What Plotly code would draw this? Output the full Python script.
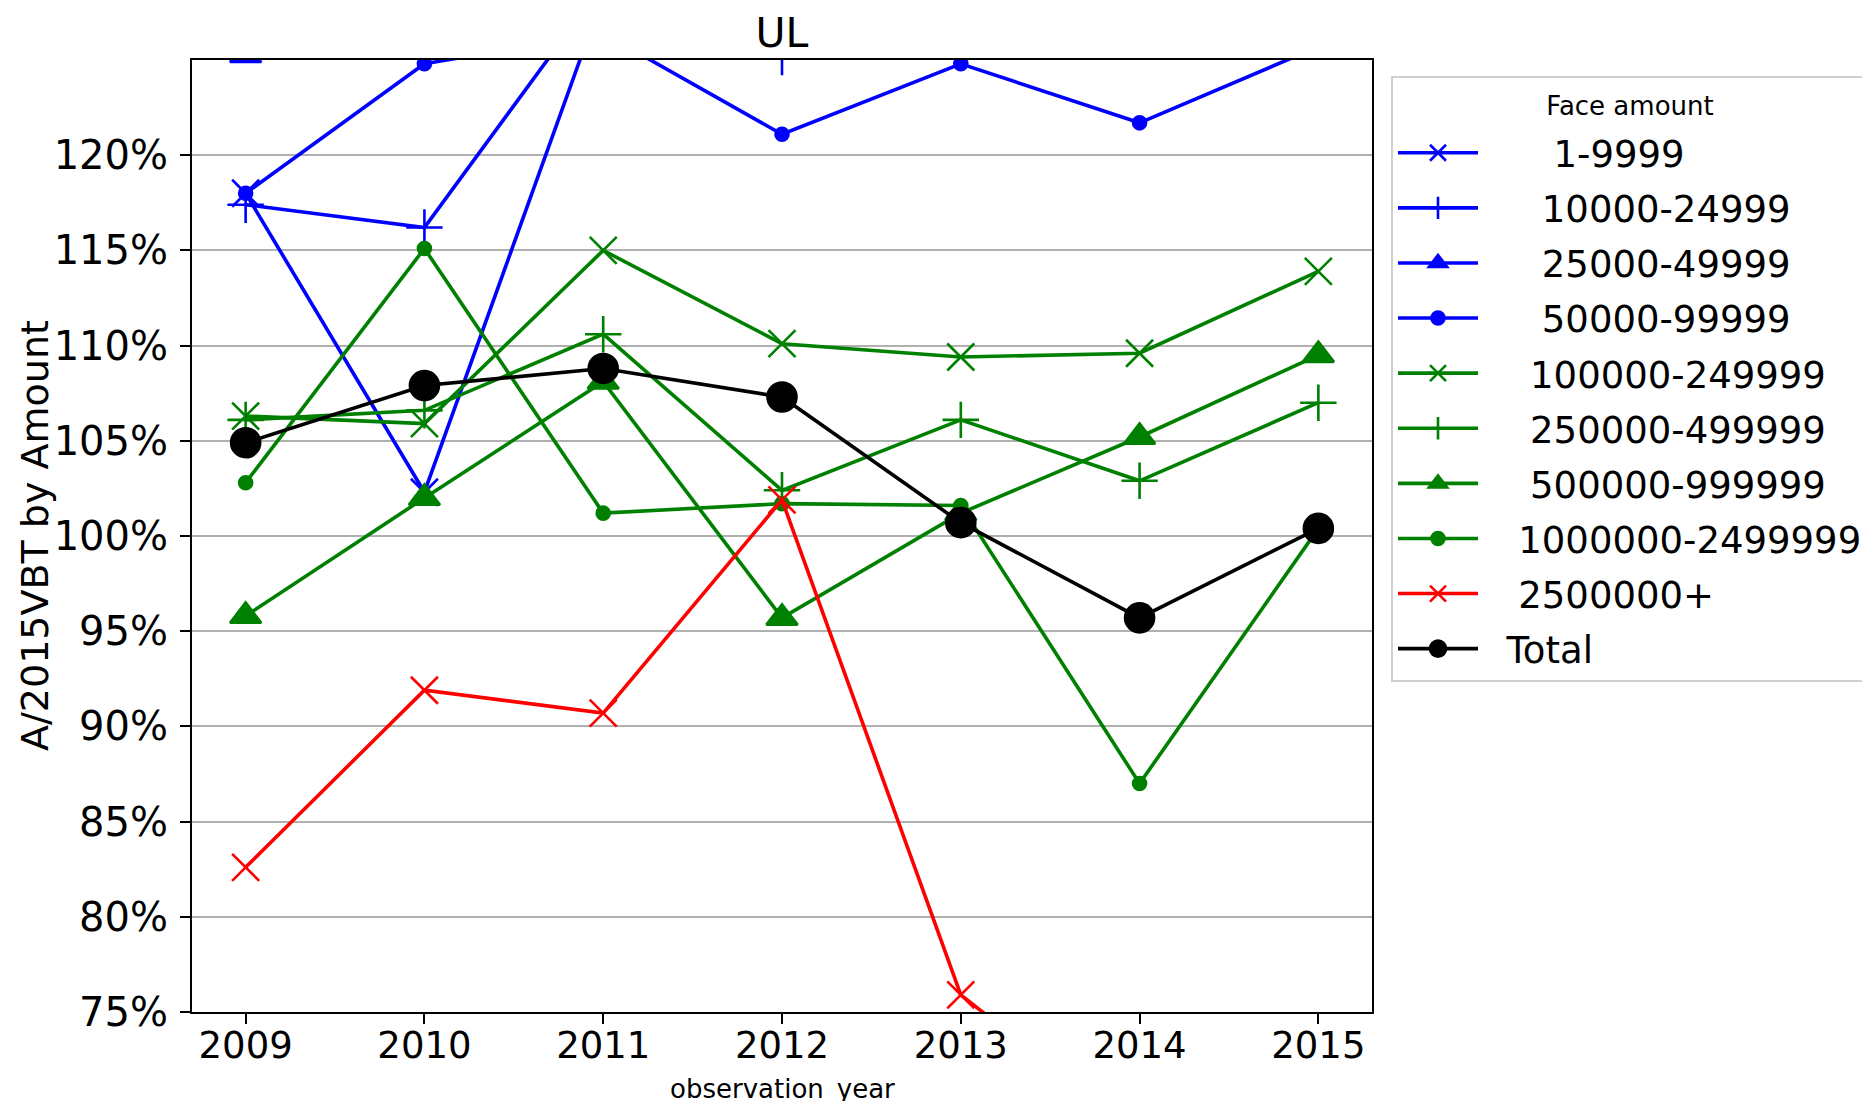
import plotly.graph_objects as go

years = [2009, 2010, 2011, 2012, 2013, 2014, 2015]

band_labels = ["1-9999", "10000-24999", "25000-49999", "50000-99999",
               "100000-249999", "250000-499999", "500000-999999",
               "1000000-2499999", "2500000+", "Total"]
label_pad = [6, 5, 5, 5, 4, 4, 4, 3, 3, 2]

v_1_9999 = [1.180, 1.023, 1.284, None, None, None, None]
v_10000_24999 = [1.174, 1.162, 1.290, 1.2515, None, None, None]
v_25000_49999 = [1.2525, None, None, None, None, None, None]
v_50000_99999 = [1.180, 1.248, 1.264, 1.211, 1.248, 1.217, 1.257]
v_100000_249999 = [1.063, 1.059, 1.150, 1.101, 1.094, 1.096, 1.139]
v_250000_499999 = [1.061, 1.066, 1.106, 1.024, 1.061, 1.029, 1.070]
v_500000_999999 = [0.958, 1.020, 1.081, 0.957, 1.012, 1.052, 1.095]
v_1000000_2499999 = [1.028, 1.151, 1.012, 1.017, 1.016, 0.870, 1.004]
v_2500000_plus = [0.826, 0.919, 0.907, 1.019, 0.759, 0.685, None]
v_total = [1.049, 1.079, 1.088, 1.073, 1.007, 0.957, 1.004]

series = [v_1_9999, v_10000_24999, v_25000_49999, v_50000_99999,
          v_100000_249999, v_250000_499999, v_500000_999999,
          v_1000000_2499999, v_2500000_plus, v_total]

colors = ["blue", "blue", "blue", "blue", "green", "green", "green", "green", "red", "black"]
symbols = ["x-thin-open", "cross-thin-open", "triangle-up", "circle",
           "x-thin-open", "cross-thin-open", "triangle-up", "circle",
           "x-thin-open", "circle"]
msizes = [27, 26, 27, 13, 27, 26, 27, 13, 27, 29]

y_ticks = [0.75, 0.80, 0.85, 0.90, 0.95, 1.00, 1.05, 1.10, 1.15, 1.20]

L, R, T, B = 184, 1364, 52, 1004
W, H = 1870, 1101

fig = go.Figure()
for i, (lab, vals) in enumerate(zip(band_labels, series)):
    col = colors[i]
    fig.add_trace(go.Scatter(
        x=years, y=vals, mode="lines+markers",
        name="\u00a0" * label_pad[i] + lab,
        legendgroup="g%d" % i,
        line=dict(color=col, width=3.6),
        marker=dict(symbol=symbols[i], size=msizes[i], color=col,
                    line=dict(color=col, width=2.6)),
        connectgaps=False, cliponaxis=True,
    ))

FONT = "DejaVu Sans"
fig.update_layout(
    width=W, height=H,
    paper_bgcolor="white", plot_bgcolor="white",
    margin=dict(l=L, r=W - R, t=T, b=H - B, autoexpand=False),
    font=dict(family=FONT, color="black"),
    title=dict(text="UL", x=(L + R) / 2 / W, xanchor="center",
               y=1 - 25 / H, yanchor="middle", font=dict(size=41, family=FONT)),
    xaxis=dict(range=[2008.7, 2015.3], tickvals=years, ticktext=[str(y) for y in years],
               showgrid=False, zeroline=False, ticks="outside", ticklen=10, tickwidth=2,
               tickcolor="black", showline=True, linecolor="black", linewidth=2, mirror=True,
               tickfont=dict(size=37, family=FONT), ticklabelstandoff=-10),
    yaxis=dict(range=[0.75, 1.25], tickvals=y_ticks, tickformat=".0%",
               showgrid=True, gridcolor="#b0b0b0", gridwidth=2, zeroline=False,
               ticks="outside", ticklen=10, tickwidth=2, tickcolor="black",
               showline=True, linecolor="black", linewidth=2, mirror=True,
               tickfont=dict(size=40, family=FONT), ticklabelstandoff=4),
    legend=dict(x=(1383 - L) / (R - L), y=1 - (68 - T) / (B - T), xanchor="left", yanchor="top",
                bgcolor="white", bordercolor="#d0d0d0", borderwidth=2,
                font=dict(size=37, family=FONT),
                title=dict(text="\u00a0<br><sup><span style='font-size:26px'>Face amount</span></sup>",
                           font=dict(size=17, family=FONT), side="top center"),
                tracegroupgap=4, itemwidth=80, itemsizing="trace"),
    annotations=[
        dict(text="observation_year", xref="paper", yref="paper",
             x=0.5, y=1 - (1081 - T) / (B - T), xanchor="center", yanchor="middle",
             showarrow=False, font=dict(size=26, family=FONT)),
        dict(text="A/2015VBT by Amount", xref="paper", yref="paper",
             x=-(L - 27) / (R - L), y=0.5, xanchor="center", yanchor="middle",
             textangle=-90, showarrow=False, font=dict(size=38, family=FONT)),
    ],
)

fig.write_html("out.html")
